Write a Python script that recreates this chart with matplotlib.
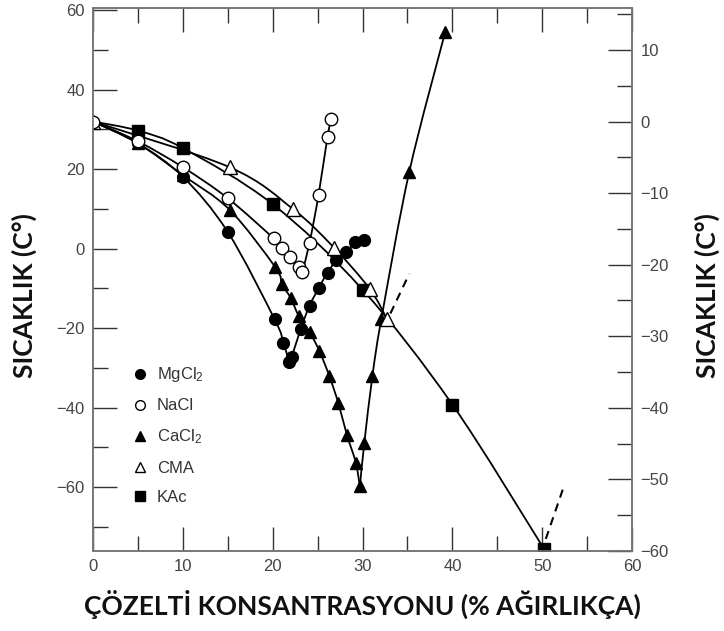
import numpy as np
import matplotlib.pyplot as plt
from matplotlib.path import Path
from matplotlib.patches import PathPatch
from matplotlib.ticker import MultipleLocator

plt.rcParams["font.family"] = ["Liberation Sans", "DejaVu Sans"]
plt.rcParams["mathtext.default"] = "regular"

# ── Data (x = % by weight, y = °F on the left axis) ────────────────────
nacl_x = [0, 5, 10, 15, 20.1, 21.0, 21.9, 22.9, 23.3, 24.1, 25.1, 26.1, 26.5]
nacl_y = [32, 27, 20.5, 12.7, 2.6, 0.3, -2.2, -4.6, -5.9, 1.5, 13.5, 28.2, 32.6]
nacl_min = 8

mgcl2_x = [0, 5, 10, 15, 20.2, 21.2, 21.8, 22.1, 23.1, 24.1, 25.1, 26.1, 27.1, 28.2, 29.2, 30.2]
mgcl2_y = [32, 26.5, 18.1, 4.2, -17.7, -23.6, -28.4, -27.3, -20.3, -14.3, -10.0, -6.0, -2.9, -0.9, 1.6, 2.3]
mgcl2_min = 6

cacl2_x = [0, 5, 10, 15.2, 20.3, 21.0, 22.0, 22.9, 24.1, 25.2, 26.3, 27.3, 28.25, 29.25, 29.7,
           30.2, 31.1, 32.1, 35.2, 39.2]
cacl2_y = [32, 26.5, 18.5, 9.8, -4.7, -8.8, -12.4, -16.9, -20.9, -25.75, -32.0, -38.8, -46.75, -53.8, -59.8,
           -48.8, -32.0, -17.6, 19.3, 54.5]
cacl2_min = 14

cma_x = [0, 15.2, 22.3, 26.8, 30.8, 32.7]
cma_y = [32, 20.5, 9.9, 0.3, -10.1, -17.6]

kac_x = [0, 5, 10, 20, 30, 40, 50.2]
kac_y = [32, 29.7, 25.3, 11.2, -10.3, -39.2, -75.5]

# dashed extrapolations
cma_ext_x = [33.1, 35.2]
cma_ext_y = [-16.3, -6.3]
kac_ext_x = [50.4, 52.3]
kac_ext_y = [-73.0, -60.5]

legend_labels = ["MgCl$_2$", "NaCl", "CaCl$_2$", "CMA", "KAc"]


def smooth_path(x, y):
    """Catmull-Rom curve through the points, as cubic Bezier pieces."""
    p = np.column_stack([x, y]).astype(float)
    verts = [p[0]]
    codes = [Path.MOVETO]
    n = len(p)
    for i in range(n - 1):
        p0 = p[i - 1] if i > 0 else p[i]
        p3 = p[i + 2] if i + 2 < n else p[i + 1]
        c1 = p[i] + (p[i + 1] - p0) / 6.0
        c2 = p[i + 1] - (p3 - p[i]) / 6.0
        verts += [c1, c2, p[i + 1]]
        codes += [Path.CURVE4] * 3
    return Path(verts, codes)


def draw_curve(ax, x, y):
    ax.add_patch(PathPatch(smooth_path(x, y), fill=False, lw=1.3, ec="black", zorder=2))


fig = plt.figure(figsize=(7.24, 6.31), dpi=100)
ax = fig.add_axes([0.1285, 0.127, 0.7445, 0.860])

# curves
draw_curve(ax, kac_x, kac_y)
draw_curve(ax, cma_x, cma_y)
draw_curve(ax, mgcl2_x[:mgcl2_min + 1], mgcl2_y[:mgcl2_min + 1])
draw_curve(ax, mgcl2_x[mgcl2_min:], mgcl2_y[mgcl2_min:])
draw_curve(ax, cacl2_x[:cacl2_min + 1], cacl2_y[:cacl2_min + 1])
draw_curve(ax, cacl2_x[cacl2_min:], cacl2_y[cacl2_min:])
draw_curve(ax, nacl_x[:nacl_min + 1], nacl_y[:nacl_min + 1])
draw_curve(ax, nacl_x[nacl_min:], nacl_y[nacl_min:])

ax.plot(cma_ext_x, cma_ext_y, color="black", lw=1.5, ls=(0, (4, 3)), zorder=2)
ax.plot(kac_ext_x, kac_ext_y, color="black", lw=1.5, ls=(0, (4, 3)), zorder=2)

# markers
mk = dict(ls="none", mec="black", mew=1.0, zorder=4)
ax.plot(kac_x[1:], kac_y[1:], marker="s", ms=8, mfc="black", **mk)
ax.plot(cacl2_x[1:], cacl2_y[1:], marker="^", ms=8.5, mfc="black", **mk)
ax.plot(mgcl2_x[1:], mgcl2_y[1:], marker="o", ms=8.5, mfc="black", **mk)
ax.plot(cma_x, cma_y, marker="^", ms=10, mfc="white", **mk)
ax.plot(nacl_x, nacl_y, marker="o", ms=9, mfc="white", **mk)

# legend
leg_style = [("o", "black"), ("o", "white"), ("^", "black"), ("^", "white"), ("s", "black")]
handles = [plt.Line2D([], [], ls="none", marker=m, ms=7, mfc=fc, mec="black", mew=1.0)
           for m, fc in leg_style]
ax.legend(handles, legend_labels, loc="upper left", bbox_to_anchor=(125 / 724, 1 - 357 / 631),
          bbox_transform=fig.transFigure, frameon=False, fontsize=12, labelspacing=0.85,
          handlelength=0.8, handletextpad=0.6, borderpad=0, labelcolor="#333333")

# axes
ax.set_xlim(0, 60)
ax.set_ylim(-76, 60.5)
ax.xaxis.set_major_locator(MultipleLocator(10))
ax.xaxis.set_minor_locator(MultipleLocator(5))
ax.yaxis.set_major_locator(MultipleLocator(20))
ax.yaxis.set_minor_locator(MultipleLocator(10))
ax.tick_params(which="both", direction="in", top=True, right=False, color="#333333",
               width=1.0, labelsize=12, labelcolor="#444444", pad=6)
ax.tick_params(which="major", length=17)
ax.tick_params(which="minor", length=11)

ax2 = ax.twinx()
ax2.set_ylim((-76 - 32) / 1.8, (60.5 - 32) / 1.8)
ax2.yaxis.set_major_locator(MultipleLocator(10))
ax2.yaxis.set_minor_locator(MultipleLocator(5))
ax2.tick_params(which="both", direction="in", color="#333333", width=1.0,
                labelsize=12, labelcolor="#444444", pad=6)
ax2.tick_params(which="major", length=17)
ax2.tick_params(which="minor", length=11)

for a in (ax, ax2):
    for s in a.spines.values():
        s.set_color("#777777")
        s.set_linewidth(1.2)

lab = dict(family=["Lato", "DejaVu Sans"], fontsize=19, fontweight="bold", color="#111111")
ax.set_xlabel("ÇÖZELTİ KONSANTRASYONU (% AĞIRLIKÇA)", labelpad=11, **lab)
ax.set_ylabel("SICAKLIK (C°)", **lab)
ax2.set_ylabel("SICAKLIK (C°)", **lab)
ax.yaxis.set_label_coords(-0.104, 0.47)
ax2.yaxis.set_label_coords(1.117, 0.47)

fig.savefig("out.png", dpi=100)
